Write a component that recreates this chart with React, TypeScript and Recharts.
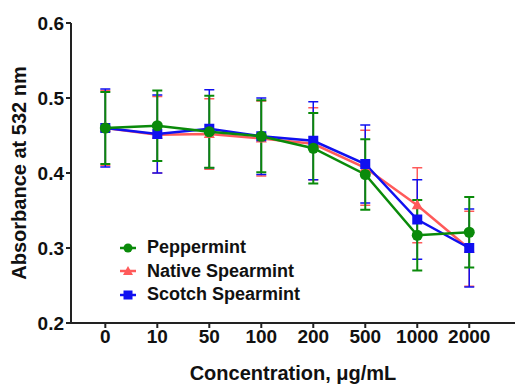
import React from 'react'
import { LineChart, Line, XAxis, YAxis, ErrorBar } from 'recharts'

const categories = ['0', '10', '50', '100', '200', '500', '1000', '2000']
const peppermint = [0.46, 0.463, 0.455, 0.449, 0.433, 0.398, 0.317, 0.321]
const peppermintErr = [0.048, 0.047, 0.048, 0.048, 0.047, 0.047, 0.047, 0.047]
const nativeSpearmint = [0.46, 0.451, 0.452, 0.446, 0.439, 0.407, 0.357, 0.299]
const nativeErr = [0.05, 0.051, 0.047, 0.05, 0.048, 0.05, 0.05, 0.05]
const scotchSpearmint = [0.46, 0.452, 0.459, 0.449, 0.443, 0.412, 0.338, 0.3]
const scotchErr = [0.052, 0.052, 0.052, 0.051, 0.052, 0.052, 0.053, 0.052]
const yTicks = [0.2, 0.3, 0.4, 0.5, 0.6]

const data = categories.map((c, i) => ({
  idx: i,
  pep: peppermint[i],
  pepErr: peppermintErr[i],
  nat: nativeSpearmint[i],
  natErr: nativeErr[i],
  sco: scotchSpearmint[i],
  scoErr: scotchErr[i],
}))

const GREEN = '#0a8a0a'
const RED = '#ff5a5a'
const BLUE = '#1010f0'
const FONT = '"Liberation Sans", Arial, sans-serif'

const Circle = (props: any) => {
  const { cx, cy, index } = props
  return <circle key={'c' + index} cx={cx} cy={cy} r={5.5} fill={GREEN} />
}
const Tri = (props: any) => {
  const { cx, cy, index } = props
  return (
    <polygon key={'t' + index} points={`${cx},${cy - 6} ${cx - 5.5},${cy + 4} ${cx + 5.5},${cy + 4}`} fill={RED} />
  )
}
const Square = (props: any) => {
  const { cx, cy, index } = props
  return <rect key={'s' + index} x={cx - 5} y={cy - 5} width={10} height={10} fill={BLUE} />
}

const legendItems = [
  { name: 'Peppermint', color: GREEN, shape: 'circle' },
  { name: 'Native Spearmint', color: RED, shape: 'tri' },
  { name: 'Scotch Spearmint', color: BLUE, shape: 'square' },
]

// legend sits inside the plot, drawn as plain html over the svg
const LegendBox = () => (
  <div
    style={{
      position: 'absolute',
      left: 119,
      top: 236,
      fontFamily: FONT,
      fontWeight: 'bold',
      fontSize: 18,
      color: '#111',
    }}
  >
    {legendItems.map((it) => (
      <div key={it.name} style={{ display: 'flex', alignItems: 'center', height: 23.5 }}>
        <svg width={18} height={12} style={{ marginRight: 10 }}>
          <line x1={1} y1={6} x2={17} y2={6} stroke={it.color} strokeWidth={2.5} />
          {it.shape === 'circle' && <circle cx={9} cy={6} r={4.5} fill={it.color} />}
          {it.shape === 'tri' && <polygon points="9,1 4,10 14,10" fill={it.color} />}
          {it.shape === 'square' && <rect x={4.5} y={1.5} width={9} height={9} fill={it.color} />}
        </svg>
        <span>{it.name}</span>
      </div>
    ))}
  </div>
)

export default function App() {
  return (
    <div style={{ position: 'fixed', left: 0, top: 0, width: 515, height: 385, background: '#fff' }}>
      <LineChart width={515} height={385} data={data} margin={{ top: 23, right: 0, bottom: 0, left: 0 }}>
        <XAxis
          type="number"
          dataKey="idx"
          domain={[-0.66, 7.88]}
          ticks={[0, 1, 2, 3, 4, 5, 6, 7]}
          tickFormatter={(i: number) => categories[i]}
          allowDataOverflow
          height={62}
          stroke="#222"
          strokeWidth={2}
          tickSize={5}
          tick={{ fill: '#111', fontSize: 19, fontWeight: 'bold', fontFamily: FONT }}
          label={{
            value: 'Concentration, μg/mL',
            position: 'insideBottom',
            offset: 5,
            style: { fill: '#111', fontSize: 20, fontWeight: 'bold', fontFamily: FONT },
          }}
        />
        <YAxis
          domain={[0.2, 0.6]}
          ticks={yTicks}
          tickFormatter={(v: number) => v.toFixed(1)}
          width={71}
          stroke="#222"
          strokeWidth={2}
          tickSize={5}
          tick={{ fill: '#111', fontSize: 19, fontWeight: 'bold', fontFamily: FONT }}
          label={{
            value: 'Absorbance at 532 nm',
            angle: -90,
            position: 'insideLeft',
            offset: 19,
            style: { textAnchor: 'middle', fill: '#111', fontSize: 20, fontWeight: 'bold', fontFamily: FONT },
          }}
        />
        <Line dataKey="nat" stroke={RED} strokeWidth={2.5} dot={<Tri />} isAnimationActive={false}>
          <ErrorBar dataKey="natErr" direction="y" width={5} stroke={RED} strokeWidth={1.5} />
        </Line>
        <Line dataKey="sco" stroke={BLUE} strokeWidth={2.5} dot={<Square />} isAnimationActive={false}>
          <ErrorBar dataKey="scoErr" direction="y" width={5} stroke={BLUE} strokeWidth={1.5} />
        </Line>
        <Line dataKey="pep" stroke={GREEN} strokeWidth={2.5} dot={<Circle />} isAnimationActive={false}>
          <ErrorBar dataKey="pepErr" direction="y" width={5} stroke={GREEN} strokeWidth={2} />
        </Line>
      </LineChart>
      <LegendBox />
    </div>
  )
}
